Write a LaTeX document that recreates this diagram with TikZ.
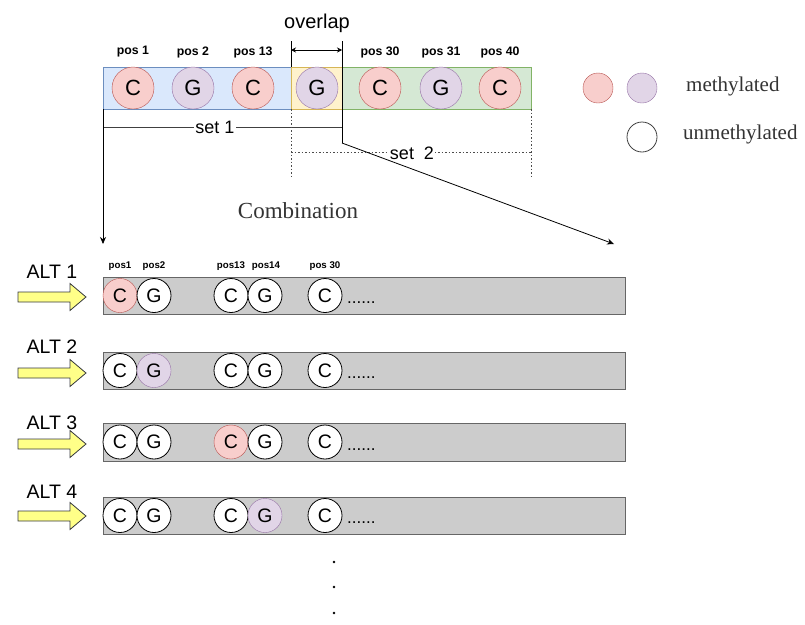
\documentclass[tikz,border=0pt]{standalone}
\usepackage{fontspec}
\setmainfont{Liberation Serif}
\setsansfont{Liberation Sans}
\usetikzlibrary{arrows.meta}
\definecolor{redF}{HTML}{F8CECC}\definecolor{redD}{HTML}{B85450}
\definecolor{purF}{HTML}{E1D5E7}\definecolor{purD}{HTML}{9673A6}
\definecolor{bluF}{HTML}{DAE8FC}\definecolor{bluD}{HTML}{6C8EBF}
\definecolor{yelF}{HTML}{FFF2CC}\definecolor{yelD}{HTML}{D6B656}
\definecolor{grnF}{HTML}{D5E8D4}\definecolor{grnD}{HTML}{82B366}
\definecolor{grayF}{HTML}{CCCCCC}\definecolor{grayD}{HTML}{666666}
\definecolor{arrF}{HTML}{FFFF88}\definecolor{arrD}{HTML}{36393D}
\definecolor{txtG}{HTML}{333333}
\begin{document}
\begin{tikzpicture}[x=1pt,y=-1pt,
  big/.style={circle,minimum size=42pt,inner sep=0pt,font=\sffamily\fontsize{22}{26}\selectfont},
  small/.style={circle,minimum size=34pt,inner sep=0pt,font=\sffamily\fontsize{19.5}{23}\selectfont},
  meC/.style={fill=redF,draw=redD},
  meG/.style={fill=purF,draw=purD},
  un/.style={fill=white,draw=black,line width=0.8pt},
  poslab/.style={font=\sffamily\bfseries\fontsize{12.3}{14}\selectfont},
  poslabs/.style={font=\sffamily\bfseries\fontsize{9.7}{11}\selectfont},
  altlab/.style={font=\sffamily\fontsize{19.5}{22}\selectfont},
  rowbox/.style={fill=grayF,draw=grayD,line width=0.8pt},
  serif/.style={font=\rmfamily\fontsize{21}{24}\selectfont,text=txtG},
  conn/.style={line width=0.8pt,draw=black},
  dots/.style={dash pattern=on 1.5pt off 2pt,line width=0.8pt,draw=black!70},
  yarrow/.style={fill=arrF,draw=arrD,line width=0.8pt}
]
\useasboundingbox (0,0) rectangle (805,624);

% top strip
\node[fill=bluF,draw=bluD,minimum width=188pt,minimum height=42pt,inner sep=0pt,anchor=north west] (blue) at (103,67) {};
\node[fill=yelF,draw=yelD,minimum width=51pt,minimum height=42pt,inner sep=0pt,anchor=north west] (yel) at (291,67) {};
\node[fill=grnF,draw=grnD,minimum width=189pt,minimum height=42pt,inner sep=0pt,anchor=north west] (grn) at (342,67) {};

\foreach \x/\l/\s/\p/\n in {133/C/meC/pos 1/a,193/G/meG/pos 2/b,253/C/meC/pos 13/c,317/G/meG//d,380/C/meC/pos 30/e,441/G/meG/pos 31/f,500/C/meC/pos 40/g}{
  \node[big,\s] (t\n) at (\x,88) {\l};
  \node[poslab] (p\n) at (\x,52) {\p};
}

% overlap
\coordinate (ovL) at (291,41);
\coordinate (ovR) at (342,41);
\node[font=\sffamily\fontsize{20}{24}\selectfont] (overlap) at (317,23) {overlap};
\draw[conn] (ovL) -- (291,67);
\draw[conn] (ovR) -- (342,143) coordinate (bend);
\draw[line width=0.7pt,{Stealth[length=5pt,width=5pt]}-{Stealth[length=5pt,width=5pt]}] (291,50) -- (342,50);

% set 1
\coordinate (s1L) at (103,127);
\coordinate (s1R) at (342,127);
\draw[conn,draw=black!75] (s1L) -- (s1R);
\node[fill=white,inner sep=1pt,font=\sffamily\fontsize{18}{21}\selectfont] (set1) at (215,127) {set 1};

% set 2
\draw[dots] (291,109) -- (291,177);
\draw[dots] (531,109) -- (531,177);
\coordinate (s2L) at (291,152);
\coordinate (s2R) at (531,152);
\draw[dots] (s2L) -- (s2R);
\node[fill=white,inner sep=1pt,font=\sffamily\fontsize{18}{21}\selectfont] (set2) at (412,153) {set\ \ 2};

% arrows down
\coordinate (dL) at (103,244);
\coordinate (dR) at (614,244);
\draw[conn,-{Stealth[length=7pt,width=6pt]}] (103,109) -- (dL);
\draw[conn,-{Stealth[length=7pt,width=6pt]}] (bend) -- (dR);

\node[serif,font=\rmfamily\fontsize{23}{26}\selectfont] (comb) at (298,211) {Combination};

% legend
\node[circle,minimum size=30pt,inner sep=0pt,meC] (lg1) at (598,88) {};
\node[circle,minimum size=30pt,inner sep=0pt,meG] (lg2) at (642,88) {};
\node[circle,minimum size=30pt,inner sep=0pt,fill=white,draw=black!75,line width=0.8pt] (lg3) at (642,137) {};
\node[serif,anchor=west,inner sep=0pt] (lgt1) at (686,86) {methylated};
\node[serif,anchor=west,inner sep=0pt] (lgt2) at (683,134) {unmethylated};

% rows
\foreach \r/\ya/\yb/\ly/\ay/\ca/\cb/\cc/\cd in {
  1/277/314/272/297/meC/un/un/un,
  2/352/389/347/373/un/meG/un/un,
  3/423/461/423/444/un/un/meC/un,
  4/497/534/492/516/un/un/un/meG}{
  \node[rowbox,minimum width=522pt,minimum height={\yb-\ya},inner sep=0pt,anchor=north west] (row\r) at (103,\ya) {};
  \node[small,\ca] (r\r a) at (120,{(\ya+\yb)/2}) {C};
  \node[small,\cb] (r\r b) at (154,{(\ya+\yb)/2}) {G};
  \node[small,\cc] (r\r c) at (231,{(\ya+\yb)/2}) {C};
  \node[small,\cd] (r\r d) at (265,{(\ya+\yb)/2}) {G};
  \node[small,un] (r\r e) at (325,{(\ya+\yb)/2}) {C};
  \node[font=\sffamily\fontsize{17}{20}\selectfont,anchor=base west,inner sep=0pt] (r\r f) at (347,{(\ya+\yb)/2+8}) {......};
  \node[altlab] (alt\r) at (52,\ly) {ALT \r};
  \draw[yarrow] (18,\ay-5) -- (70,\ay-5) -- (70,\ay-13.5) -- (86,\ay) -- (70,\ay+13.5) -- (70,\ay+5) -- (18,\ay+5) -- cycle;
}
\foreach \x/\p/\n in {120/pos1/a,154/pos2/b,231/pos13/c,266/pos14/d,325/pos 30/e}{
  \node[poslabs] (q\n) at (\x,266) {\p};
}

% vertical dots
\foreach \y/\n in {562/1,587/2,613/3}{
  \fill (334,\y) circle (1.4pt) coordinate (vd\n);
}
\end{tikzpicture}
\end{document}
